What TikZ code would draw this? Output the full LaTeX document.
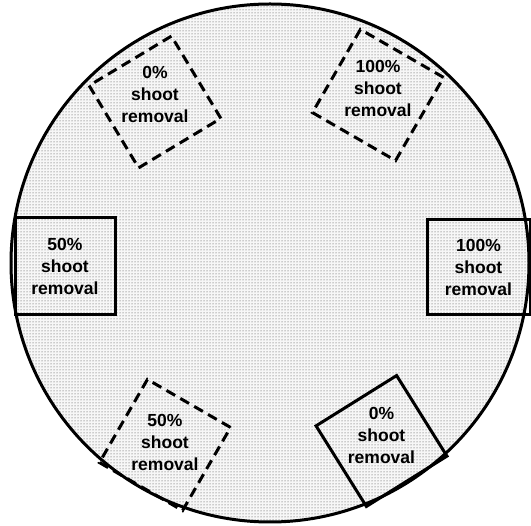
\documentclass[tikz,border=0pt]{standalone}
\usepackage{fontspec}
\setmainfont{Liberation Sans}
\usetikzlibrary{patterns}

\begin{document}
\begin{tikzpicture}[
    x=1pt, y=-1pt,
    plot/.style={draw, line width=3pt, minimum size=96pt, inner sep=0pt},
    cut/.style={plot, dash pattern=on 10pt off 6pt},
    lbl/.style={font=\fontsize{17.5}{22}\selectfont\bfseries, align=center, inner sep=0pt}
]
\useasboundingbox (0,0) rectangle (531,526);
% pot
\node[circle, draw, line width=3pt, minimum size=518pt, inner sep=0pt,
      preaction={fill=gray!6}, pattern=dots, pattern color=black!75] (pot) at (270,263) {};
% dashed plots
\node[cut, rotate=31] (a) at (155,102) {};
\node[cut, rotate=-30] (b) at (378,95) {};
\node[cut, rotate=-30] (c) at (165,445) {};
% solid plots
\node[plot, minimum width=100pt, minimum height=97pt] (d) at (65,266.5) {};
\node[plot, minimum width=103pt, minimum height=95pt] (e) at (478.5,267.5) {};
\node[plot, minimum size=95pt, rotate=32] (f) at (381.5,441) {};
% labels
\node[lbl] at ([yshift=8pt]a.center) {0\%\\shoot\\removal};
\node[lbl] at ([yshift=7pt]b.center) {100\%\\shoot\\removal};
\node[lbl] at ([yshift=3pt]c.center) {50\%\\shoot\\removal};
\node[lbl] at (d.center) {50\%\\shoot\\removal};
\node[lbl] at (e.center) {100\%\\shoot\\removal};
\node[lbl] at ([yshift=6pt]f.center) {0\%\\shoot\\removal};
\end{tikzpicture}
\end{document}
